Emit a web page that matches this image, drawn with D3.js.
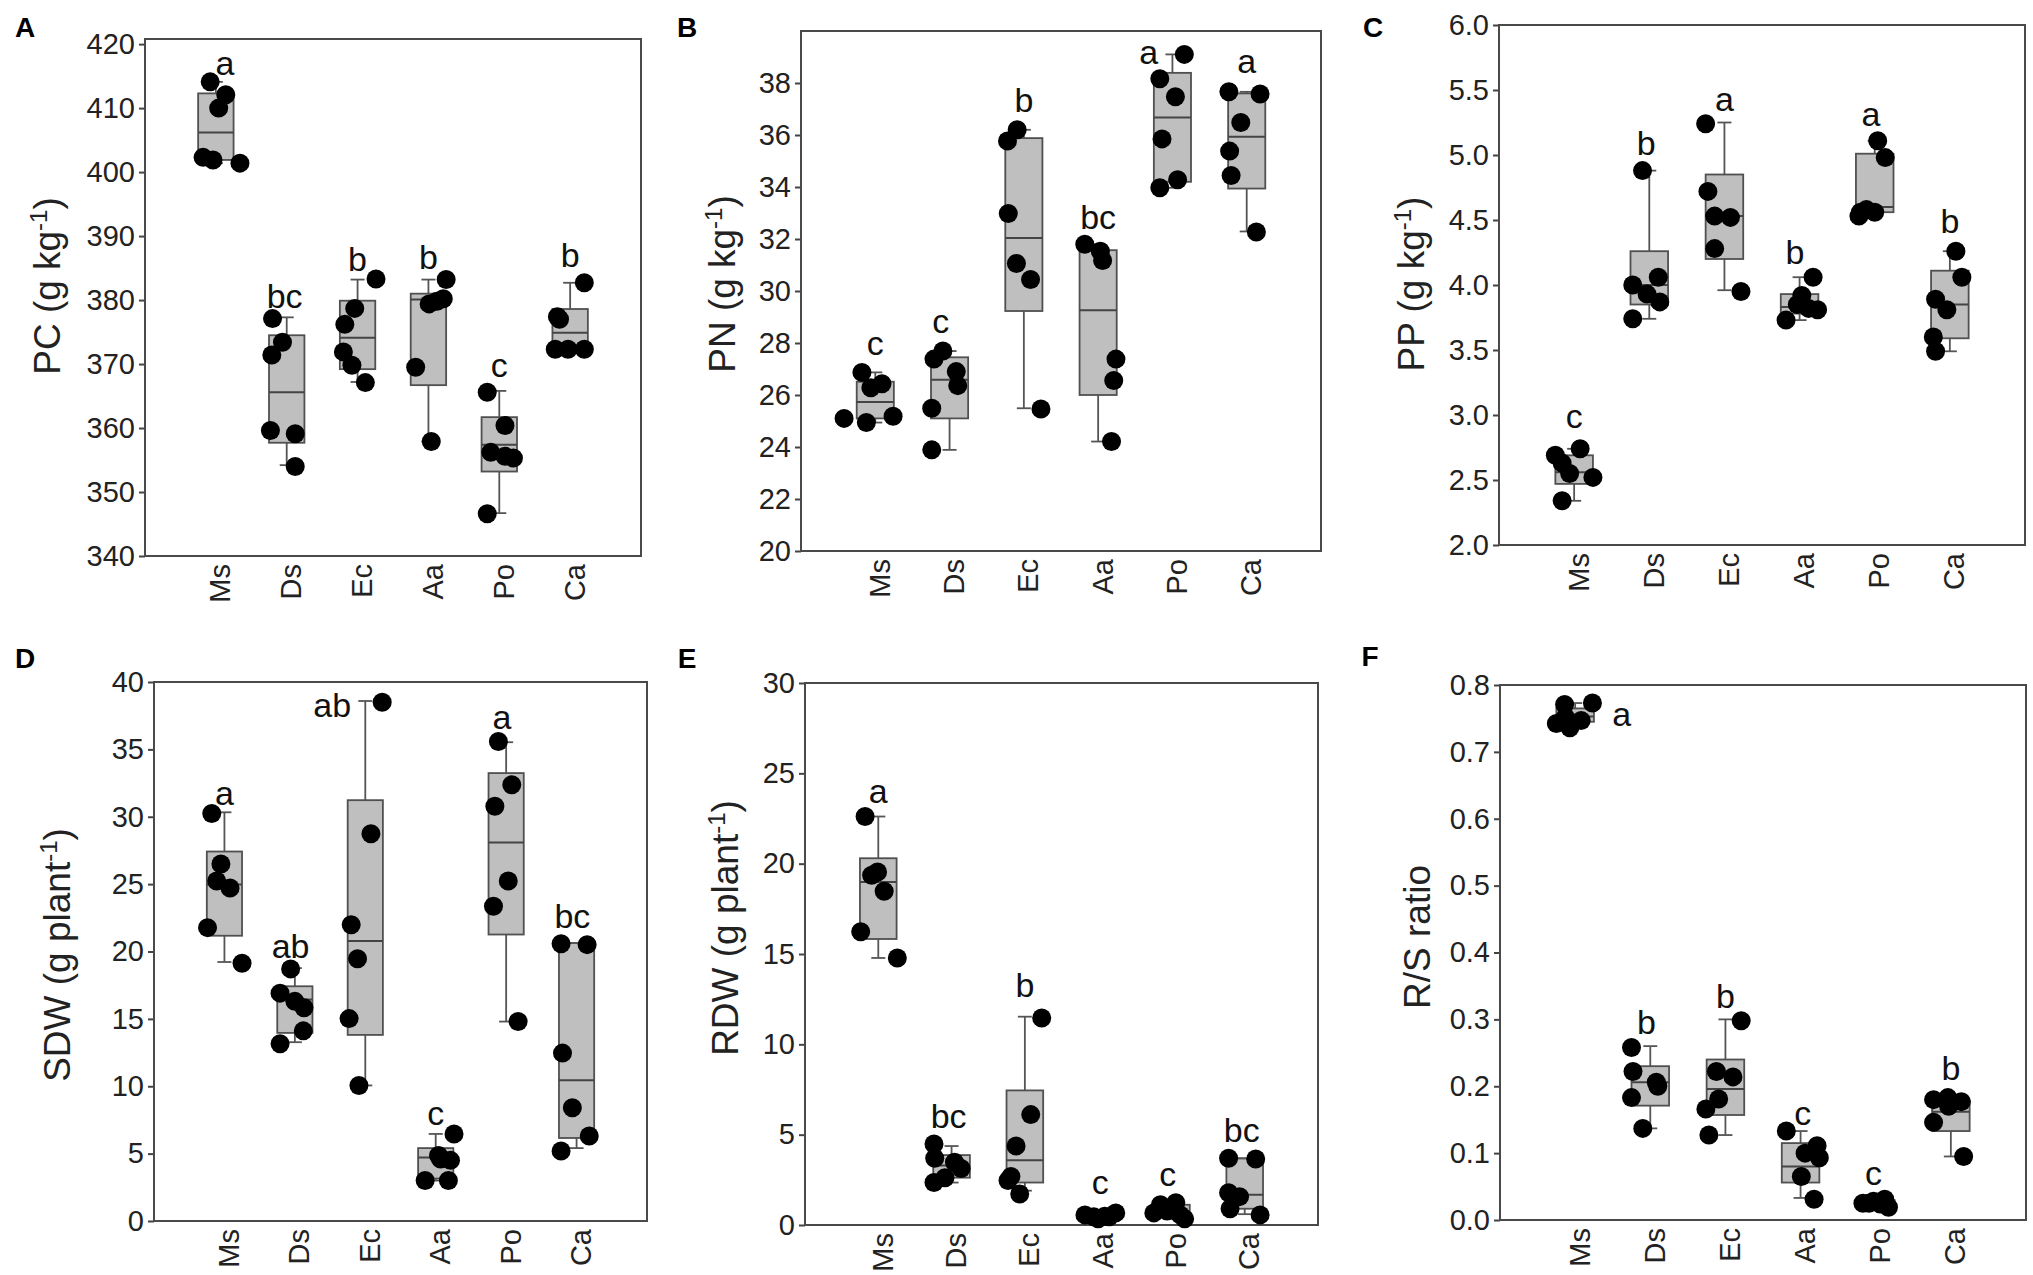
<!DOCTYPE html>
<html>
<head>
<meta charset="utf-8">
<script src="https://cdn.jsdelivr.net/npm/d3@7"></script>
<style>
body { margin: 0; background: #fff; }
text { font-family: "Liberation Sans", Arial, sans-serif; }
</style>
</head>
<body>
<div id="plot"></div>
<script>
var groups = ["Ms", "Ds", "Ec", "Aa", "Po", "Ca"];

// A - PC
var pcTicks = [340, 350, 360, 370, 380, 390, 400, 410, 420];
var pcValues = [
	[414.1, 412.1, 410.0, 402.3, 401.9, 401.4],
	[377.1, 371.4, 373.4, 359.6, 359.1, 354.0],
	[383.3, 378.7, 376.2, 371.9, 369.8, 367.1],
	[383.2, 379.4, 380.2, 369.5, 357.9, 379.8],
	[365.6, 360.4, 356.2, 355.6, 355.3, 346.6],
	[382.7, 377.4, 372.3, 372.3, 372.3, 377.0]];
var pcJitter = [
	[-0.08, 0.14, 0.04, -0.18, -0.04, 0.34],
	[-0.2, -0.21, -0.06, -0.23, 0.12, 0.12],
	[0.26, -0.04, -0.18, -0.2, -0.08, 0.11],
	[0.25, 0.01, 0.21, -0.18, 0.04, 0.12],
	[-0.17, 0.08, -0.12, 0.08, 0.2, -0.17],
	[0.2, -0.18, -0.21, -0.03, 0.2, -0.15]];
var pcBox = [ // low whisker, q1, median, q3, high whisker
	[401.4, 401.9, 406.2, 412.3, 414.1],
	[354.2, 357.7, 365.6, 374.5, 377.3],
	[367.2, 369.2, 374.1, 379.9, 383.2],
	[357.9, 366.7, 380.1, 381.0, 383.2],
	[346.7, 353.2, 357.4, 361.7, 365.8],
	[372.2, 372.2, 374.9, 378.6, 382.7]];
var pcLetters = ["a", "bc", "b", "b", "c", "b"];
var pcLetterAt = [415.1, 378.7, 384.5, 384.8, 367.9, 385.1];
var pcLetterDx = [0.13, -0.03, 0, 0, 0, 0];

// B - PN
var pnTicks = [20, 22, 24, 26, 28, 30, 32, 34, 36, 38];
var pnValues = [
	[26.87, 26.28, 26.43, 25.1, 24.94, 25.18],
	[27.38, 27.69, 26.9, 26.36, 25.49, 23.89],
	[35.77, 36.2, 32.98, 31.06, 30.44, 25.46],
	[31.8, 31.53, 31.17, 27.38, 26.56, 24.21],
	[38.16, 39.1, 37.47, 35.85, 34.28, 33.97],
	[37.66, 37.58, 36.48, 35.38, 34.44, 32.27]];
var pnJitter = [
	[-0.18, -0.06, 0.09, -0.42, -0.12, 0.24],
	[-0.21, -0.09, 0.09, 0.11, -0.24, -0.24],
	[-0.22, -0.09, -0.21, -0.1, 0.09, 0.23],
	[-0.18, 0.03, 0.06, 0.24, 0.21, 0.18],
	[-0.17, 0.16, 0.04, -0.14, 0.07, -0.17],
	[-0.24, 0.18, -0.08, -0.23, -0.21, 0.13]];
var pnBox = [
	[24.94, 25.1, 25.73, 26.51, 26.87],
	[23.89, 25.1, 26.59, 27.45, 27.69],
	[25.49, 29.23, 32.04, 35.88, 36.2],
	[24.21, 26.0, 29.26, 31.57, 31.8],
	[33.97, 34.2, 36.67, 38.39, 39.1],
	[32.29, 33.94, 35.93, 37.6, 37.66]];
var pnLetters = ["c", "c", "b", "bc", "a", "a"];
var pnLetterAt = [27.53, 28.4, 36.87, 32.4, 38.75, 38.39];
var pnLetterDx = [0, -0.12, 0, 0, -0.32, 0];

// C - PP
var ppTicks = [2.0, 2.5, 3.0, 3.5, 4.0, 4.5, 5.0, 5.5, 6.0];
var ppValues = [
	[2.69, 2.74, 2.63, 2.55, 2.52, 2.34],
	[4.88, 4.0, 4.06, 3.87, 3.74, 3.93],
	[5.24, 4.72, 4.53, 4.52, 4.28, 3.95],
	[3.73, 3.92, 3.82, 3.81, 4.06, 3.85],
	[4.53, 4.58, 4.56, 5.11, 4.98, 4.56],
	[4.26, 4.06, 3.89, 3.81, 3.6, 3.49]];
var ppJitter = [
	[-0.25, 0.08, -0.16, -0.06, 0.25, -0.16],
	[-0.09, -0.22, 0.12, 0.14, -0.22, -0.03],
	[-0.25, -0.22, -0.13, 0.08, -0.13, 0.22],
	[-0.18, 0.03, 0.12, 0.24, 0.18, -0.03],
	[-0.21, -0.11, 0, 0.04, 0.14, -0.19],
	[0.08, 0.16, -0.19, -0.04, -0.22, -0.19]];
var ppBox = [
	[2.34, 2.47, 2.56, 2.69, 2.74],
	[3.74, 3.85, 4.0, 4.26, 4.88],
	[3.96, 4.2, 4.53, 4.85, 5.25],
	[3.73, 3.78, 3.83, 3.93, 4.06],
	[4.53, 4.56, 4.6, 5.01, 5.11],
	[3.49, 3.59, 3.85, 4.11, 4.26]];
var ppLetters = ["c", "b", "a", "b", "a", "b"];
var ppLetterAt = [2.9, 5.0, 5.34, 4.16, 5.22, 4.4];
var ppLetterDx = [0, -0.04, 0, -0.06, -0.05, 0];

// D - SDW
var sdwTicks = [0, 5, 10, 15, 20, 25, 30, 35, 40];
var sdwValues = [
	[30.24, 26.49, 25.23, 24.71, 21.77, 19.13],
	[18.71, 16.91, 15.83, 14.11, 13.15, 16.3],
	[38.5, 28.74, 21.98, 19.46, 15.02, 10.06],
	[6.46, 4.86, 4.5, 3.0, 3.0, 4.6],
	[35.59, 32.37, 30.78, 25.23, 23.36, 14.8],
	[20.57, 20.51, 12.46, 8.41, 6.31, 5.2]];
var sdwJitter = [
	[-0.18, -0.05, -0.11, 0.08, -0.24, 0.25],
	[-0.06, -0.21, 0.13, 0.12, -0.21, 0],
	[0.24, 0.08, -0.2, -0.11, -0.23, -0.09],
	[0.26, 0.04, 0.21, -0.15, 0.18, 0.07],
	[-0.11, 0.08, -0.16, 0.03, -0.18, 0.17],
	[-0.22, 0.15, -0.2, -0.06, 0.18, -0.22]];
var sdwBox = [
	[19.22, 21.17, 24.98, 27.42, 30.33],
	[13.27, 13.96, 16.43, 17.42, 18.77],
	[10.06, 13.81, 20.78, 31.23, 38.59],
	[3.0, 3.15, 4.71, 5.41, 6.46],
	[14.8, 21.26, 28.08, 33.24, 35.53],
	[5.41, 6.16, 10.45, 20.63, 20.63]];
var sdwLetters = ["a", "ab", "ab", "c", "a", "bc"];
var sdwLetterAt = [30.84, 19.52, 37.39, 7.12, 36.49, 21.77];
var sdwLetterDx = [0, -0.06, -0.47, 0, -0.06, -0.06];

// E - RDW
var rdwTicks = [0, 5, 10, 15, 20, 25, 30];
var rdwValues = [
	[22.61, 19.36, 19.54, 18.47, 16.23, 14.78],
	[4.48, 3.69, 3.47, 3.13, 2.62, 2.35],
	[11.46, 6.11, 4.37, 2.69, 2.46, 1.72],
	[0.56, 0.45, 0.49, 0.67, 0.45, 0.34],
	[1.12, 1.23, 0.56, 0.78, 0.67, 0.34],
	[3.69, 3.65, 1.79, 1.57, 0.9, 0.56]];
var rdwJitter = [
	[-0.18, -0.09, -0.01, 0.08, -0.24, 0.26],
	[-0.24, -0.23, 0.04, 0.13, -0.09, -0.24],
	[0.23, 0.08, -0.12, -0.19, -0.23, -0.07],
	[-0.18, -0.06, 0.09, 0.24, 0.15, 0],
	[-0.15, 0.06, 0.12, -0.06, -0.24, 0.18],
	[-0.22, 0.15, -0.22, -0.07, -0.2, 0.21]];
var rdwBox = [
	[14.78, 15.83, 18.98, 20.3, 22.61],
	[2.35, 2.62, 3.3, 3.87, 4.37],
	[1.9, 2.35, 3.58, 7.45, 11.53],
	[0.3, 0.35, 0.45, 0.56, 0.67],
	[0.34, 0.56, 0.78, 1.12, 1.23],
	[0.6, 0.9, 1.68, 3.69, 3.69]];
var rdwLetters = ["a", "bc", "b", "c", "c", "bc"];
var rdwLetterAt = [23.35, 5.37, 12.6, 1.72, 2.17, 4.59];
var rdwLetterDx = [0, -0.04, 0, 0.03, -0.05, -0.04];

// F - R/S ratio
var rsTicks = [0.0, 0.1, 0.2, 0.3, 0.4, 0.5, 0.6, 0.7, 0.8];
var rsValues = [
	[0.7425, 0.771, 0.736, 0.747, 0.773, 0.752],
	[0.258, 0.222, 0.206, 0.183, 0.137, 0.2],
	[0.298, 0.222, 0.214, 0.181, 0.166, 0.127],
	[0.133, 0.111, 0.093, 0.065, 0.031, 0.1],
	[0.025, 0.028, 0.031, 0.019, 0.025, 0.024],
	[0.18, 0.183, 0.177, 0.146, 0.17, 0.095]];
var rsJitter = [
	[-0.25, -0.14, -0.07, 0.08, 0.23, -0.13],
	[-0.25, -0.23, 0.08, -0.25, -0.1, 0.1],
	[0.21, -0.12, 0.1, -0.09, -0.26, -0.22],
	[-0.19, 0.22, 0.25, 0.01, 0.18, 0.06],
	[-0.17, -0.03, 0.12, 0.17, -0.09, 0.06],
	[-0.23, -0.04, 0.14, -0.23, -0.03, 0.17]];
var rsBox = [
	[0.736, 0.745, 0.753, 0.765, 0.773],
	[0.137, 0.171, 0.206, 0.23, 0.26],
	[0.127, 0.157, 0.196, 0.24, 0.3],
	[0.033, 0.056, 0.08, 0.115, 0.133],
	[0.019, 0.022, 0.026, 0.03, 0.031],
	[0.095, 0.133, 0.162, 0.178, 0.183]];
var rsLetters = ["a", "b", "b", "c", "c", "b"];
var rsLetterAt = [0.738, 0.278, 0.317, 0.142, 0.053, 0.21];
var rsLetterDx = [0.62, -0.05, 0, 0.03, -0.03, 0];

var panels = [
	{tag: "A", x0: 145, x1: 641, y0: 39, y1: 556, domain: [340, 420.8], ticks: pcTicks, fmt: d3.format("d"),
	 title: "PC (g kg", sup: "-1", tx: 47, ty: 286, lx: 25, ly: 37,
	 values: pcValues, jitter: pcJitter, box: pcBox, letters: pcLetters, letterAt: pcLetterAt, letterDx: pcLetterDx},
	{tag: "B", x0: 801, x1: 1321, y0: 31, y1: 551, domain: [20, 40], ticks: pnTicks, fmt: d3.format("d"),
	 title: "PN (g kg", sup: "-1", tx: 722, ty: 284, lx: 687, ly: 37,
	 values: pnValues, jitter: pnJitter, box: pnBox, letters: pnLetters, letterAt: pnLetterAt, letterDx: pnLetterDx},
	{tag: "C", x0: 1499, x1: 2025, y0: 25, y1: 545, domain: [2, 6], ticks: ppTicks, fmt: d3.format(".1f"),
	 title: "PP (g kg", sup: "-1", tx: 1411, ty: 284, lx: 1373, ly: 37,
	 values: ppValues, jitter: ppJitter, box: ppBox, letters: ppLetters, letterAt: ppLetterAt, letterDx: ppLetterDx},
	{tag: "D", x0: 154, x1: 647, y0: 682, y1: 1221, domain: [0, 40], ticks: sdwTicks, fmt: d3.format("d"),
	 title: "SDW (g plant", sup: "-1", tx: 57, ty: 955, lx: 25, ly: 668,
	 values: sdwValues, jitter: sdwJitter, box: sdwBox, letters: sdwLetters, letterAt: sdwLetterAt, letterDx: sdwLetterDx},
	{tag: "E", x0: 805, x1: 1318, y0: 683, y1: 1225, domain: [0, 30], ticks: rdwTicks, fmt: d3.format("d"),
	 title: "RDW (g plant", sup: "-1", tx: 725, ty: 928, lx: 687, ly: 668,
	 values: rdwValues, jitter: rdwJitter, box: rdwBox, letters: rdwLetters, letterAt: rdwLetterAt, letterDx: rdwLetterDx},
	{tag: "F", x0: 1500, x1: 2026, y0: 685, y1: 1220, domain: [0, 0.8], ticks: rsTicks, fmt: d3.format(".1f"),
	 title: "R/S ratio", sup: null, tx: 1417, ty: 937, lx: 1370, ly: 666,
	 values: rsValues, jitter: rsJitter, box: rsBox, letters: rsLetters, letterAt: rsLetterAt, letterDx: rsLetterDx}
];

var svg = d3.select("#plot").append("svg")
	.attr("width", 2033)
	.attr("height", 1275)
	.style("display", "block");

svg.append("rect").attr("width", 2033).attr("height", 1275).attr("fill", "#fff");

panels.forEach(drawPanel);

function drawPanel(p) {
	var g = svg.append("g");

	var x = d3.scalePoint()
		.domain(groups)
		.range([p.x0, p.x1])
		.padding(1);
	var step = x.step();
	var bw = step * 0.5;

	var y = d3.scaleLinear()
		.domain(p.domain)
		.range([p.y1, p.y0]);

	// y axis
	var ax = g.append("g")
		.attr("transform", "translate(" + p.x0 + ",0)")
		.call(d3.axisLeft(y).tickValues(p.ticks).tickFormat(p.fmt).tickSize(6).tickPadding(4));
	ax.select(".domain").remove();
	ax.selectAll(".tick line").attr("stroke", "#444").attr("stroke-width", 2);
	ax.selectAll(".tick text")
		.attr("fill", "#222")
		.style("font-size", "29px")
		.style("font-family", "'Liberation Sans', Arial, sans-serif");

	// frame
	g.append("rect")
		.attr("x", p.x0)
		.attr("y", p.y0)
		.attr("width", p.x1 - p.x0)
		.attr("height", p.y1 - p.y0)
		.attr("fill", "none")
		.attr("stroke", "#4a4a4a")
		.attr("stroke-width", 2);

	// x labels (rotated)
	g.selectAll(".xlab")
		.data(groups)
		.enter().append("text")
		.attr("class", "xlab")
		.attr("transform", function(d) { return "translate(" + x(d) + "," + (p.y1 + 8) + ") rotate(-90)"; })
		.attr("dy", "0.5em")
		.attr("text-anchor", "end")
		.attr("fill", "#222")
		.style("font-size", "29px")
		.text(function(d) { return d; });

	// y title
	var t = g.append("text")
		.attr("transform", "translate(" + p.tx + "," + p.ty + ") rotate(-90)")
		.attr("dy", "0.36em")
		.attr("text-anchor", "middle")
		.attr("fill", "#222")
		.style("font-size", "37px");
	t.append("tspan").text(p.title);
	if (p.sup) {
		t.append("tspan").attr("dy", -13).style("font-size", "24px").text(p.sup);
		t.append("tspan").attr("dy", 13).text(")");
	}

	// panel tag
	g.append("text")
		.attr("x", p.lx)
		.attr("y", p.ly)
		.attr("text-anchor", "middle")
		.attr("fill", "#000")
		.style("font-size", "28px")
		.style("font-weight", "bold")
		.text(p.tag);

	// boxes
	var bx = g.selectAll(".bx")
		.data(p.box)
		.enter().append("g")
		.attr("class", "bx");

	bx.append("line")
		.attr("x1", function(d, i) { return x(groups[i]); })
		.attr("x2", function(d, i) { return x(groups[i]); })
		.attr("y1", function(d) { return y(d[0]); })
		.attr("y2", function(d) { return y(d[4]); })
		.attr("stroke", "#555")
		.attr("stroke-width", 1.8);

	bx.append("rect")
		.attr("x", function(d, i) { return x(groups[i]) - bw / 2; })
		.attr("y", function(d) { return y(d[3]); })
		.attr("width", bw)
		.attr("height", function(d) { return Math.max(1, y(d[1]) - y(d[3])); })
		.attr("fill", "#bfbfbf")
		.attr("stroke", "#505050")
		.attr("stroke-width", 1.8);

	bx.append("line")
		.attr("x1", function(d, i) { return x(groups[i]) - bw / 2; })
		.attr("x2", function(d, i) { return x(groups[i]) + bw / 2; })
		.attr("y1", function(d) { return y(d[2]); })
		.attr("y2", function(d) { return y(d[2]); })
		.attr("stroke", "#444")
		.attr("stroke-width", 2);

	[0, 4].forEach(function(k) {
		bx.append("line")
			.attr("x1", function(d, i) { return x(groups[i]) - 7; })
			.attr("x2", function(d, i) { return x(groups[i]) + 7; })
			.attr("y1", function(d) { return y(d[k]); })
			.attr("y2", function(d) { return y(d[k]); })
			.attr("stroke", "#555")
			.attr("stroke-width", 1.8);
	});

	// points
	var pts = [];
	p.values.forEach(function(arr, i) {
		arr.forEach(function(v, j) {
			pts.push({g: groups[i], v: v, j: p.jitter[i][j]});
		});
	});
	g.selectAll(".pt")
		.data(pts)
		.enter().append("circle")
		.attr("class", "pt")
		.attr("cx", function(d) { return x(d.g) + d.j * step; })
		.attr("cy", function(d) { return y(d.v); })
		.attr("r", 9.5)
		.attr("fill", "#000");

	// significance letters
	g.selectAll(".let")
		.data(p.letters)
		.enter().append("text")
		.attr("class", "let")
		.attr("x", function(d, i) { return x(groups[i]) + p.letterDx[i] * step; })
		.attr("y", function(d, i) { return y(p.letterAt[i]); })
		.attr("text-anchor", "middle")
		.attr("fill", "#111")
		.style("font-size", "34px")
		.text(function(d) { return d; });
}
</script>
</body>
</html>
